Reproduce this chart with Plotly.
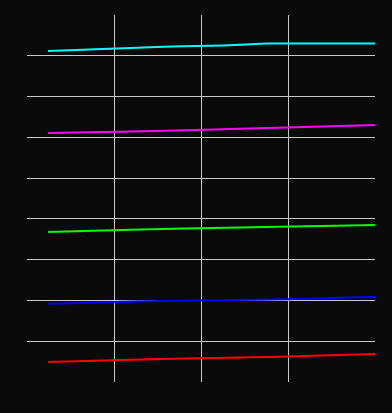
import plotly.graph_objects as go

x_vals = list(range(1, 17))

cyan_vals = [8.118, 8.136, 8.158, 8.176, 8.195, 8.217, 8.232, 8.242,
             8.252, 8.276, 8.301, 8.303, 8.301, 8.303, 8.301, 8.303]
magenta_vals = [6.107, 6.116, 6.126, 6.135, 6.145, 6.157, 6.170, 6.184,
                6.199, 6.214, 6.229, 6.243, 6.258, 6.273, 6.288, 6.302]
green_vals = [3.680, 3.693, 3.708, 3.722, 3.737, 3.749, 3.762, 3.771,
              3.781, 3.791, 3.801, 3.811, 3.821, 3.830, 3.840, 3.850]
blue_vals = [1.919, 1.932, 1.947, 1.962, 1.976, 1.985, 1.992, 2.000,
             2.007, 2.014, 2.022, 2.030, 2.045, 2.060, 2.075, 2.089]
red_vals = [0.492, 0.505, 0.520, 0.535, 0.549, 0.562, 0.574, 0.584,
            0.593, 0.603, 0.613, 0.625, 0.642, 0.657, 0.672, 0.687]

series = [
    ("cyan", cyan_vals, "#00ffff"),
    ("magenta", magenta_vals, "#ff00ff"),
    ("green", green_vals, "#00ff00"),
    ("blue", blue_vals, "#0000ff"),
    ("red", red_vals, "#ff0000"),
]

fig = go.Figure()
for name, vals, color in series:
    fig.add_trace(go.Scattergl(x=x_vals, y=vals, mode="lines", name=name,
                               line=dict(color=color, width=2)))

bg = "#0a0a0a"
fig.update_layout(
    width=392, height=413,
    margin=dict(l=27, r=17, t=15, b=31),
    paper_bgcolor=bg, plot_bgcolor=bg,
    showlegend=False,
    xaxis=dict(range=[0, 16], dtick=4, showticklabels=False, zeroline=False,
               showgrid=True, gridcolor="#c8c8c8", gridwidth=1, showline=False),
    yaxis=dict(range=[0, 9], dtick=1, showticklabels=False, zeroline=False,
               showgrid=True, gridcolor="#c8c8c8", gridwidth=1, showline=False),
)

fig.write_html(
    "out.html",
    config={"displayModeBar": False},
    post_script="document.body.style.margin='0';"
                "document.body.style.background='#0a0a0a';"
                "document.body.style.overflow='hidden';",
)
